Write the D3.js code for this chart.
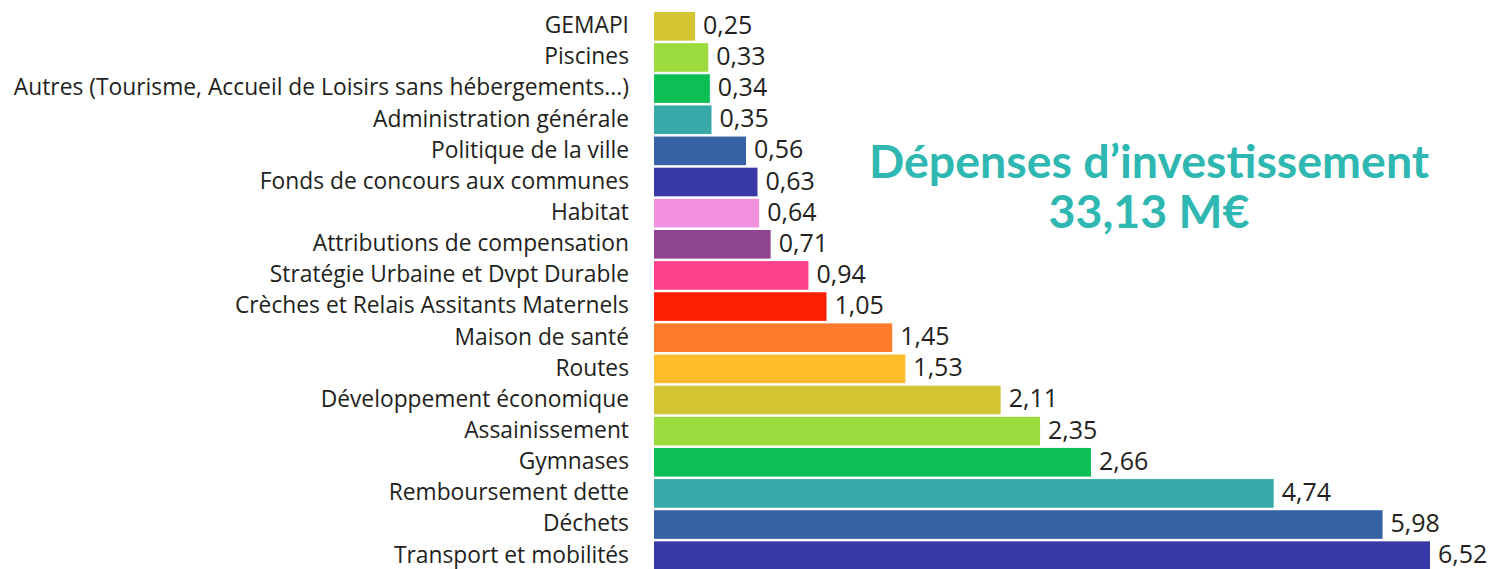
<!DOCTYPE html>
<html>
<head>
<meta charset="utf-8">
<script src="https://cdn.jsdelivr.net/npm/d3@7"></script>
<style>
  html, body { margin: 0; padding: 0; background: #fff; }
  #chart { width: 1496px; height: 569px; overflow: hidden; }
</style>
</head>
<body>
<div id="chart"></div>
<script>
// Categories, top to bottom
const categories = [
  'GEMAPI',
  'Piscines',
  'Autres (Tourisme, Accueil de Loisirs sans hébergements...)',
  'Administration générale',
  'Politique de la ville',
  'Fonds de concours aux communes',
  'Habitat',
  'Attributions de compensation',
  'Stratégie Urbaine et Dvpt Durable',
  'Crèches et Relais Assitants Maternels',
  'Maison de santé',
  'Routes',
  'Développement économique',
  'Assainissement',
  'Gymnases',
  'Remboursement dette',
  'Déchets',
  'Transport et mobilités'
];

// Amounts in M€
const values = [0.25, 0.33, 0.34, 0.35, 0.56, 0.63, 0.64, 0.71, 0.94, 1.05, 1.45, 1.53, 2.11, 2.35, 2.66, 4.74, 5.98, 6.52];

// Colour cycle used by the bars
const palette = ['#d4c531', '#9bdb3e', '#0bbf55', '#38a9a9', '#3663a6', '#3838a6',
                 '#f291df', '#8f448f', '#fc428a', '#fc2002', '#fd7b2b', '#fdbd2b'];

const titleLines = ['Dépenses d\u2019investissement', '33,13 M€'];

const width = 1496;
const height = 569;
const margin = {top: 12, left: 654};
const step = 31;

const svg = d3.select('#chart')
  .append('svg')
  .attr('width', width)
  .attr('height', height);

// the original infographic compresses the long bars
const x = d3.scaleLinear()
  .domain([0, 2.66, 6.52])
  .range([0, 437, 776]);

const y = d3.scaleBand()
  .domain(categories)
  .range([margin.top, margin.top + step * categories.length])
  .paddingInner(0.08)
  .paddingOuter(0);

const fmt = v => d3.format('.2f')(v).replace('.', ',');

const g = svg.append('g').attr('transform', `translate(${margin.left},0)`);

// Bars
g.selectAll('rect')
  .data(values)
  .enter()
  .append('rect')
  .attr('x', 0)
  .attr('y', (d, i) => y(categories[i]))
  .attr('width', d => x(d))
  .attr('height', y.bandwidth())
  .attr('fill', (d, i) => palette[i % palette.length]);

// Value labels
g.selectAll('text.value')
  .data(values)
  .enter()
  .append('text')
  .attr('class', 'value')
  .attr('x', d => x(d) + 8)
  .attr('y', (d, i) => y(categories[i]) + y.bandwidth() / 2)
  .attr('dy', '0.3em')
  .text(d => fmt(d))
  .style('font-family', '"Open Sans", sans-serif')
  .style('font-size', '25px')
  .style('fill', '#231f20');

// Category labels
svg.append('g')
  .selectAll('text')
  .data(categories)
  .enter()
  .append('text')
  .attr('x', 629)
  .attr('y', d => y(d) + y.bandwidth() / 2)
  .attr('dy', '0.3em')
  .attr('text-anchor', 'end')
  .text(d => d)
  .style('font-family', '"Open Sans", sans-serif')
  .style('font-size', '22.8px')
  .style('fill', '#231f20');

// Title
svg.append('g')
  .selectAll('text')
  .data(titleLines)
  .enter()
  .append('text')
  .attr('x', 1149)
  .attr('y', (d, i) => 178 + i * 50)
  .attr('text-anchor', 'middle')
  .text(d => d)
  .style('font-family', 'Lato, sans-serif')
  .style('font-weight', 'bold')
  .style('font-size', '46.5px')
  .style('fill', '#2fb7b1');
</script>
</body>
</html>
